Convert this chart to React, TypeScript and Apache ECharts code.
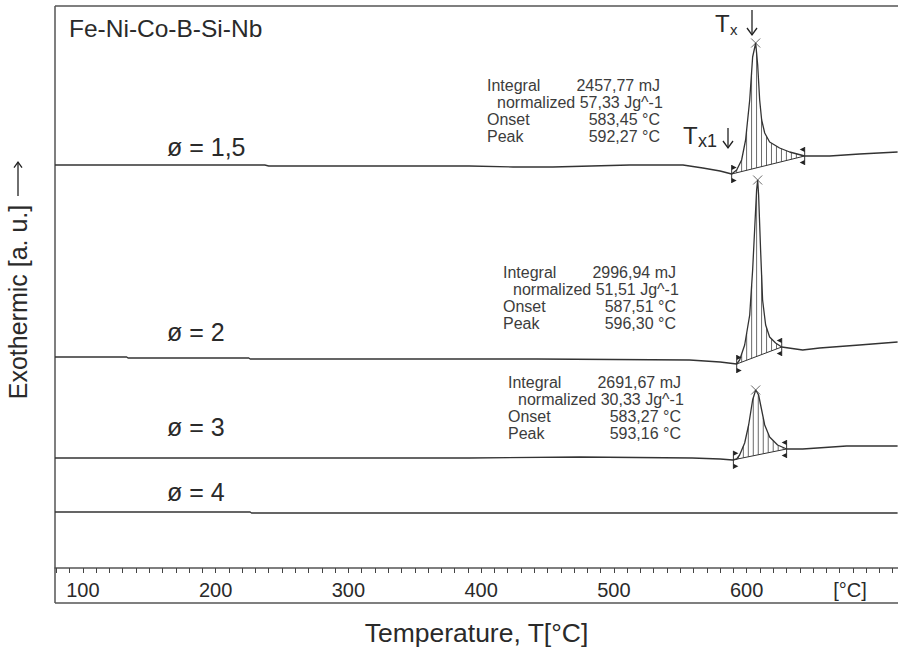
import React, { useEffect, useRef } from "react";
import * as echarts from "echarts";

type P = [number, number];

// x axis (°C)
const xMin = 79;
const xMax = 714;
const xTickLabels = [100, 200, 300, 400, 500, 600];
const xTickStep = 10;
const unitLabel = "[°C]";

// sample diameter labels
const diameterLabels = ["ø = 1,5", "ø = 2", "ø = 3", "ø = 4"];

// DSC curves: [temperature °C, signal a.u.]
const curveD15: P[] = [
  [79, 403], [237, 403], [240, 402], [391, 402], [424, 401], [454, 401], [512, 403],
  [552, 403], [567, 400], [580, 397], [588.7, 394], [592.5, 398], [596.2, 408],
  [599.2, 428], [602.3, 468], [604.5, 511], [606.8, 525], [608.3, 503], [609.8, 468],
  [611.3, 448], [613.6, 435], [617.3, 426], [624.8, 420], [632.4, 416], [643.7, 412],
  [662.5, 412], [685.1, 414], [713.7, 416],
];
const curveD2: P[] = [
  [79, 211], [133, 211], [134, 210], [225, 210], [226, 209], [442, 209], [557, 208],
  [580, 206], [592.5, 204], [594.7, 208], [598.5, 223], [602.3, 253], [604.5, 298],
  [606, 338], [607.5, 378], [608.3, 388], [609, 373], [610.5, 318], [612, 268],
  [614.3, 243], [617.3, 231], [621.8, 225], [626.4, 221], [642.2, 218], [655, 220],
  [685, 223], [713.7, 226],
];
const curveD3: P[] = [
  [79, 110], [391, 110], [474, 111], [559, 110], [580, 109], [589.5, 108], [592.5, 109],
  [594.7, 113], [598.5, 125], [601.5, 143], [604.5, 168], [606.8, 178], [609, 173],
  [611.3, 158], [613.6, 143], [617.3, 131], [623.3, 123], [630.1, 119], [642.2, 119],
  [675.3, 122], [713.7, 122],
];
const curveD4: P[] = [
  [79, 56], [226, 56], [227, 55], [713.7, 55],
];

// integration limits [start, end] °C
const integrationD15: P = [588.7, 643.7];
const integrationD2: P = [592.5, 626.4];
const integrationD3: P = [590, 630.1];

// peak evaluation texts
const integralValues = ["2457,77 mJ", "2996,94 mJ", "2691,67 mJ"];
const normalizedValues = ["57,33 Jg^-1", "51,51 Jg^-1", "30,33 Jg^-1"];
const onsetValues = ["583,45 °C", "587,51 °C", "583,27 °C"];
const peakValues = ["592,27 °C", "596,30 °C", "593,16 °C"];

const FONT = "'Liberation Sans', Arial, sans-serif";
const LINE = "#333";
const TEXT = "#2a2a2a";

function interp(c: P[], t: number): number {
  for (let i = 0; i < c.length - 1; i++) {
    const [t0, v0] = c[i];
    const [t1, v1] = c[i + 1];
    if (t >= t0 && t <= t1) return v0 + ((v1 - v0) * (t - t0)) / (t1 - t0);
  }
  return c[c.length - 1][1];
}

function peakOf(c: P[]): P {
  let best = c[0];
  c.forEach((p) => {
    if (p[1] > best[1]) best = p;
  });
  return best;
}

function arrow(x1: number, y1: number, x2: number, y2: number, head = 5): any[] {
  const dx = x2 - x1;
  const dy = y2 - y1;
  const len = Math.sqrt(dx * dx + dy * dy);
  const ux = dx / len;
  const uy = dy / len;
  const px = -uy;
  const py = ux;
  const bx = x2 - ux * head * 1.4;
  const by = y2 - uy * head * 1.4;
  return [
    {
      type: "line",
      silent: true,
      shape: { x1, y1, x2, y2 },
      style: { stroke: "#222", lineWidth: 1.3 },
    },
    {
      type: "polyline",
      silent: true,
      shape: {
        points: [
          [bx + px * head, by + py * head],
          [x2, y2],
          [bx - px * head, by - py * head],
        ],
      },
      style: { stroke: "#222", lineWidth: 1.3, fill: "none" },
    },
  ];
}

export default function App() {
  const ref = useRef<HTMLDivElement>(null);

  useEffect(() => {
    if (!ref.current) return;
    const chart = echarts.init(ref.current, undefined, { renderer: "svg" });

    const peakCurves: [P[], P][] = [
      [curveD15, integrationD15],
      [curveD2, integrationD2],
      [curveD3, integrationD3],
    ];

    const hatchData: number[][] = [];
    const endMarkers: number[][] = [];
    const baselineSeries: any[] = [];
    peakCurves.forEach(([c, [s, e]]) => {
      const vs = interp(c, s);
      const ve = interp(c, e);
      const step = 3.75;
      for (let t = s + step; t < e - 0.5; t += step) {
        const b = vs + ((ve - vs) * (t - s)) / (e - s);
        hatchData.push([t, interp(c, t), b]);
      }
      endMarkers.push([s, vs, 1]);
      endMarkers.push([e, ve, -1]);
      baselineSeries.push({
        type: "line",
        data: [[s, vs], [e, ve]],
        showSymbol: false,
        silent: true,
        lineStyle: { color: LINE, width: 1 },
        z: 3,
      });
    });

    const ticks: number[] = [];
    for (let t = 80; t <= 710; t += xTickStep) ticks.push(t);

    const curves = [curveD15, curveD2, curveD3, curveD4];

    const txt = (
      text: string,
      x: number,
      y: number,
      size: number,
      align: string = "left",
      color: string = TEXT,
      extra: any = {}
    ) => ({
      type: "text",
      x,
      y,
      silent: true,
      style: {
        text,
        fontSize: size,
        fontFamily: FONT,
        fill: color,
        align,
        verticalAlign: "middle",
      },
      ...extra,
    });

    const blocks = [
      { x: 487, r: 660, y: 85, n: 497 },
      { x: 503, r: 676, y: 272, n: 513 },
      { x: 508, r: 681, y: 382, n: 518 },
    ];
    const annot: any[] = [];
    const AF = 16;
    blocks.forEach((b, i) => {
      const lh = 17;
      const col = "#3c3c3c";
      annot.push(txt("Integral", b.x, b.y, AF, "left", col));
      annot.push(txt(integralValues[i], b.r, b.y, AF, "right", col));
      annot.push(txt("normalized " + normalizedValues[i], b.n, b.y + lh, AF, "left", col));
      annot.push(txt("Onset", b.x, b.y + 2 * lh, AF, "left", col));
      annot.push(txt(onsetValues[i], b.r, b.y + 2 * lh, AF, "right", col));
      annot.push(txt("Peak", b.x, b.y + 3 * lh, AF, "left", col));
      annot.push(txt(peakValues[i], b.r, b.y + 3 * lh, AF, "right", col));
    });

    const labelYs = [147, 332, 427, 492];

    const option: any = {
      animation: false,
      backgroundColor: "#ffffff",
      grid: {
        left: 55,
        top: 6,
        width: 843,
        height: 562,
        outerBoundsMode: "none",
        containLabel: false,
      },
      xAxis: {
        type: "value",
        min: xMin,
        max: xMax,
        axisLine: { show: true, lineStyle: { color: "#555", width: 1.5 } },
        axisTick: {
          show: true,
          length: 5,
          customValues: ticks,
          lineStyle: { color: "#444", width: 1 },
        },
        axisLabel: {
          customValues: xTickLabels,
          fontSize: 20,
          fontFamily: FONT,
          color: TEXT,
          margin: 12,
        },
        splitLine: { show: false },
        name: "Temperature, T[°C]",
        nameLocation: "middle",
        nameGap: 51,
        nameTextStyle: { fontSize: 26.5, fontFamily: FONT, color: TEXT },
      },
      yAxis: {
        type: "value",
        min: 0,
        max: 562,
        show: false,
      },
      series: [
        ...curves.map((c) => ({
          type: "line",
          data: c,
          showSymbol: false,
          silent: true,
          lineStyle: { color: LINE, width: 1.3 },
          z: 4,
        })),
        ...baselineSeries,
        {
          type: "custom",
          data: hatchData,
          silent: true,
          z: 3,
          renderItem: (_p: any, api: any) => {
            const t = api.value(0);
            const a = api.coord([t, api.value(1)]);
            const b = api.coord([t, api.value(2)]);
            return {
              type: "line",
              shape: { x1: a[0], y1: a[1], x2: b[0], y2: b[1] },
              style: { stroke: "#444", lineWidth: 0.8 },
            };
          },
        },
        {
          type: "custom",
          data: endMarkers,
          silent: true,
          z: 5,
          renderItem: (_p: any, api: any) => {
            const p = api.coord([api.value(0), api.value(1)]);
            const d = api.value(2);
            const x = p[0];
            const y = p[1];
            return {
              type: "group",
              children: [
                {
                  type: "line",
                  shape: { x1: x, y1: y - 9, x2: x, y2: y + 9 },
                  style: { stroke: "#333", lineWidth: 1 },
                },
                {
                  type: "polygon",
                  shape: { points: [[x, y - 9], [x + 5 * d, y - 6.5], [x, y - 4]] },
                  style: { fill: "#222" },
                },
                {
                  type: "polygon",
                  shape: { points: [[x, y + 4], [x + 5 * d, y + 6.5], [x, y + 9]] },
                  style: { fill: "#222" },
                },
              ],
            };
          },
        },
        {
          type: "scatter",
          data: [peakOf(curveD15), peakOf(curveD2), peakOf(curveD3)],
          symbol: "path://M0,0L10,10M10,0L0,10",
          symbolSize: 9,
          silent: true,
          itemStyle: { color: "none", borderColor: "#444", borderWidth: 1 },
          z: 6,
        },
      ],
      graphic: [
        {
          type: "line",
          silent: true,
          shape: { x1: 55, y1: 6, x2: 898, y2: 6 },
          style: { stroke: "#555", lineWidth: 1.5 },
        },
        {
          type: "line",
          silent: true,
          shape: { x1: 55, y1: 6, x2: 55, y2: 603 },
          style: { stroke: "#555", lineWidth: 1.5 },
        },
        {
          type: "line",
          silent: true,
          shape: { x1: 55, y1: 603, x2: 898, y2: 603 },
          style: { stroke: "#555", lineWidth: 1.5 },
        },
        txt(unitLabel, 850, 590, 20, "center"),
        txt("Fe-Ni-Co-B-Si-Nb", 69, 28, 24.5),
        ...diameterLabels.map((l, i) => txt(l, 167, labelYs[i], 25)),
        txt("Exothermic [a. u.]", 18, 302, 25, "center", TEXT, {
          rotation: Math.PI / 2,
        }),
        ...arrow(18, 196, 18, 162, 4),
        txt("T", 715, 23, 24),
        txt("x", 730, 29, 15),
        ...arrow(752, 10, 752, 35, 5),
        txt("T", 683, 135, 24),
        txt("x1", 698, 141, 18),
        ...arrow(728, 128, 728, 148, 5),
        ...annot,
      ],
    };

    chart.setOption(option);
    return () => chart.dispose();
  }, []);

  return (
    <div
      ref={ref}
      style={{ position: "absolute", left: 0, top: 0, width: 898, height: 654 }}
    />
  );
}
